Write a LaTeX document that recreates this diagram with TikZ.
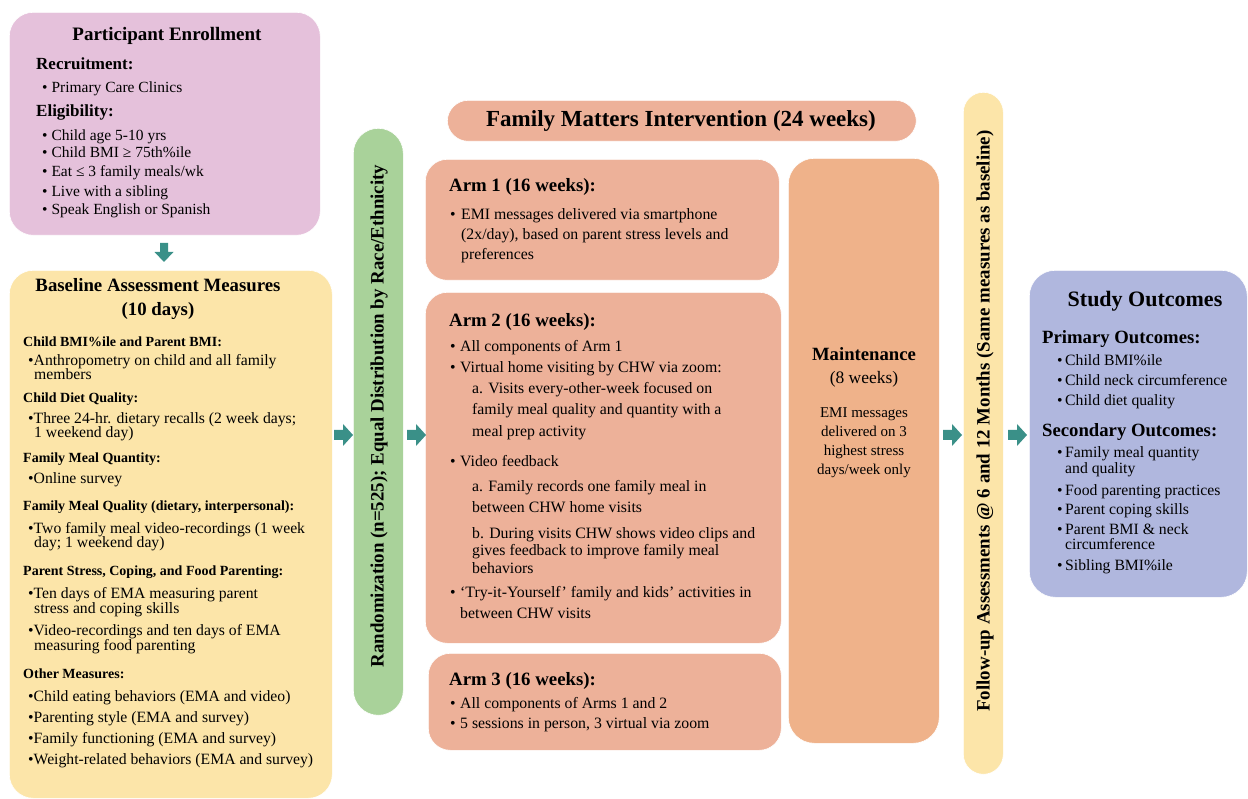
\documentclass[tikz,border=0pt]{standalone}
\usepackage{fontspec}
\setmainfont{Liberation Serif}
\definecolor{cpink}{HTML}{E5C1DB}
\definecolor{cyel}{HTML}{FCE5A9}
\definecolor{cgreen}{HTML}{A9D29A}
\definecolor{csal}{HTML}{EDB199}
\definecolor{cmnt}{HTML}{EFB28A}
\definecolor{clav}{HTML}{B0B7DE}
\definecolor{cteal}{HTML}{3A9088}
\newcounter{tn}
\newcommand\T[4][]{\stepcounter{tn}\node[tx,#1] (t\arabic{tn}) at (#2,#3) {#4};}
\newcommand\rarr[3]{\fill[cteal] (#2,#3-5) -- ++(9,0) -- ++(0,-6) -- ++(10,11) -- ++(-10,11) -- ++(0,-6) -- ++(-9,0) -- cycle; \coordinate (#1) at (#2,#3);}
\newcommand\bl[1]{\makebox[#1][l]{•}}
\begin{document}
\begin{tikzpicture}[x=1pt,y=-1pt,
  box/.style={anchor=north west,inner sep=0pt,draw=white,line width=0.6pt},
  tx/.style={anchor=base west,inner sep=0pt,font=\fontsize{15.6}{18}\selectfont},
  en/.style={font=\fontsize{15.5}{18}\selectfont},
  bm/.style={font=\fontsize{15.7}{18}\selectfont},
  bsub/.style={font=\bfseries\fontsize{14}{16}\selectfont},
  esub/.style={font=\bfseries\fontsize{17}{19}\selectfont},
  ttl/.style={anchor=base,font=\bfseries\fontsize{19}{22}\selectfont},
  armt/.style={font=\bfseries\fontsize{18.8}{22}\selectfont},
  arm/.style={font=\fontsize{15.8}{18}\selectfont},
  mn/.style={anchor=base,font=\fontsize{15}{18}\selectfont},
  oc/.style={font=\fontsize{15.7}{18}\selectfont},
  osub/.style={font=\bfseries\fontsize{18.7}{22}\selectfont},
  rot/.style={inner sep=0pt,rotate=90,font=\bfseries\fontsize{18.9}{22}\selectfont}]
\useasboundingbox (0,0) rectangle (1248,799);
% boxes
\node[box,fill=cpink,rounded corners=24pt,minimum width=311pt,minimum height=223pt] (enroll) at (9,12) {};
\node[box,fill=cyel,rounded corners=24pt,minimum width=323pt,minimum height=528pt] (base) at (9,270) {};
\node[box,fill=cgreen,rounded corners=25pt,minimum width=50pt,minimum height=587pt] (rand) at (353,128) {};
\node[box,fill=csal,rounded corners=21pt,minimum width=469pt,minimum height=41pt] (head) at (447,100) {};
\node[box,fill=csal,rounded corners=22pt,minimum width=354pt,minimum height=121pt] (arm1) at (425,159) {};
\node[box,fill=csal,rounded corners=22pt,minimum width=356pt,minimum height=351pt] (arm2) at (425,292) {};
\node[box,fill=csal,rounded corners=22pt,minimum width=353pt,minimum height=97pt] (arm3) at (428,653) {};
\node[box,fill=cmnt,rounded corners=26pt,minimum width=151pt,minimum height=585pt] (maint) at (788,158) {};
\node[box,fill=cyel,rounded corners=20pt,minimum width=40pt,minimum height=682pt] (follow) at (963,92) {};
\node[box,fill=clav,rounded corners=26pt,minimum width=218pt,minimum height=327pt] (outc) at (1029,270) {};
% arrows
\fill[cteal] (160,243) -- (168,243) -- (168,252) -- (173.5,252) -- (164,262) -- (154.5,252) -- (160,252) -- cycle;
\coordinate (dn) at (164,252);
\rarr{a1}{334}{435}
\rarr{a2}{407}{435}
\rarr{a3}{943}{435}
\rarr{a4}{1008}{435}
% enrollment
\T[ttl]{167}{41}{Participant Enrollment}
\T[esub]{36}{70}{Recruitment:}
\T[en]{42}{93}{• Primary Care Clinics}
\T[esub]{36}{117}{Eligibility:}
\T[en]{42}{141}{• Child age 5-10 yrs}
\T[en]{42}{158}{• Child BMI ≥ 75th\%ile}
\T[en]{42}{177}{• Eat ≤ 3 family meals/wk}
\T[en]{42}{197}{• Live with a sibling}
\T[en]{42}{215}{• Speak English or Spanish}
% baseline
\T[ttl,font=\bfseries\fontsize{18.8}{22}\selectfont]{158}{292}{Baseline Assessment Measures}
\T[ttl,font=\bfseries\fontsize{18.8}{22}\selectfont]{158}{316}{(10 days)}
\T[bsub]{23}{347}{Child BMI\%ile and Parent BMI:}
\T[bm]{28}{366}{•Anthropometry on child and all family}
\T[bm]{34}{380}{members}
\T[bsub]{23}{403}{Child Diet Quality:}
\T[bm]{28}{424}{•Three 24-hr. dietary recalls (2 week days;}
\T[bm]{34}{438}{1 weekend day)}
\T[bsub]{23}{462}{Family Meal Quantity:}
\T[bm]{28}{483}{•Online survey}
\T[bsub]{23}{510}{Family Meal Quality (dietary, interpersonal):}
\T[bm]{28}{533}{•Two family meal video-recordings (1 week}
\T[bm]{34}{547}{day; 1 weekend day)}
\T[bsub]{23}{575}{Parent Stress, Coping, and Food Parenting:}
\T[bm]{28}{598}{•Ten days of EMA measuring parent}
\T[bm]{34}{613}{stress and coping skills}
\T[bm]{28}{635}{•Video-recordings and ten days of EMA}
\T[bm]{34}{650}{measuring food parenting}
\T[bsub]{23}{678}{Other Measures:}
\T[bm]{28}{701}{•Child eating behaviors (EMA and video)}
\T[bm]{28}{722}{•Parenting style (EMA and survey)}
\T[bm]{28}{743}{•Family functioning (EMA and survey)}
\T[bm]{28}{764}{•Weight-related behaviors (EMA and survey)}
% rotated bars
\node[rot] (rtxt) at (379,416) {Randomization (n=525); Equal Distribution by Race/Ethnicity};
\node[rot] (ftxt) at (985,421) {Follow-up Assessments @ 6 and 12 Months (Same measures as baseline)};
% header
\T[ttl,font=\bfseries\fontsize{23}{26}\selectfont]{681}{127}{Family Matters Intervention (24 weeks)}
% arm 1
\T[armt]{449}{192}{Arm 1 (16 weeks):}
\T[arm]{450}{220}{\bl{11pt}EMI messages delivered via smartphone}
\T[arm]{461}{240}{(2x/day), based on parent stress levels and}
\T[arm]{461}{260}{preferences}
% arm 2
\T[armt]{449}{327}{Arm 2 (16 weeks):}
\T[arm]{450}{352}{\bl{10pt}All components of Arm 1}
\T[arm]{450}{373}{\bl{10pt}Virtual home visiting by CHW via zoom:}
\T[arm]{472}{394}{a. Visits every-other-week focused on}
\T[arm]{472}{415}{family meal quality and quantity with a}
\T[arm]{472}{436}{meal prep activity}
\T[arm]{450}{466}{\bl{10pt}Video feedback}
\T[arm]{472}{491}{a. Family records one family meal in}
\T[arm]{472}{512}{between CHW home visits}
\T[arm]{472}{538}{b. During visits CHW shows video clips and}
\T[arm]{472}{555}{gives feedback to improve family meal}
\T[arm]{472}{573}{behaviors}
\T[arm]{450}{597}{\bl{10pt}‘Try-it-Yourself’ family and kids’ activities in}
\T[arm]{460}{618}{between CHW visits}
% arm 3
\T[armt]{449}{685}{Arm 3 (16 weeks):}
\T[arm]{450}{708}{\bl{10pt}All components of Arms 1 and 2}
\T[arm]{450}{728}{\bl{10pt}5 sessions in person, 3 virtual via zoom}
% maintenance
\T[mn,font=\bfseries\fontsize{18.7}{22}\selectfont]{864}{361}{Maintenance}
\T[mn,font=\fontsize{17.5}{20}\selectfont]{864}{384}{(8 weeks)}
\T[mn]{864}{418}{EMI messages}
\T[mn]{864}{437}{delivered on 3}
\T[mn]{864}{456}{highest stress}
\T[mn]{864}{475}{days/week only}
% outcomes
\T[ttl,font=\bfseries\fontsize{22}{25}\selectfont]{1145}{307}{Study Outcomes}
\T[osub]{1042}{344}{Primary Outcomes:}
\T[oc]{1057}{366}{\bl{8pt}Child BMI\%ile}
\T[oc]{1057}{386}{\bl{8pt}Child neck circumference}
\T[oc]{1057}{406}{\bl{8pt}Child diet quality}
\T[osub]{1042}{437}{Secondary Outcomes:}
\T[oc]{1057}{457}{\bl{8pt}Family meal quantity}
\T[oc]{1065}{474}{and quality}
\T[oc]{1057}{495}{\bl{8pt}Food parenting practices}
\T[oc]{1057}{514}{\bl{8pt}Parent coping skills}
\T[oc]{1057}{534}{\bl{8pt}Parent BMI \& neck}
\T[oc]{1065}{549}{circumference}
\T[oc]{1057}{570}{\bl{8pt}Sibling BMI\%ile}
\end{tikzpicture}
\end{document}
